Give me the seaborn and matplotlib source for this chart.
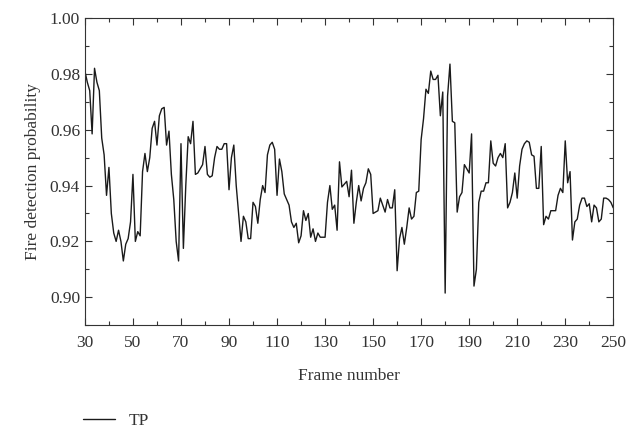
import numpy as np
import pandas as pd
import matplotlib
matplotlib.use("Agg")
import matplotlib.pyplot as plt
import seaborn as sns
from matplotlib.ticker import MultipleLocator

# Frame numbers and detection probability
frames = list(range(30, 251))
tp = [
    0.981, 0.977, 0.974, 0.9585, 0.982, 0.977, 0.974, 0.957, 0.951, 0.9365,  # 30-39
    0.9465, 0.930, 0.923, 0.920, 0.924, 0.920, 0.913, 0.919, 0.921, 0.927,  # 40-49
    0.944, 0.920, 0.9235, 0.922, 0.945, 0.9515, 0.945, 0.950, 0.9605, 0.963,  # 50-59
    0.9545, 0.965, 0.9675, 0.968, 0.9545, 0.9595, 0.944, 0.935, 0.920, 0.913,  # 60-69
    0.955, 0.9175, 0.940, 0.9575, 0.955, 0.963, 0.944, 0.9445, 0.946, 0.9475,  # 70-79
    0.954, 0.944, 0.943, 0.9435, 0.950, 0.954, 0.953, 0.953, 0.955, 0.955,  # 80-89
    0.9385, 0.950, 0.9545, 0.940, 0.930, 0.920, 0.929, 0.927, 0.921, 0.921,  # 90-99
    0.934, 0.9325, 0.9265, 0.935, 0.940, 0.9375, 0.951, 0.9545, 0.9555, 0.953,  # 100-109
    0.9365, 0.9495, 0.945, 0.937, 0.935, 0.933, 0.927, 0.925, 0.9265, 0.9195,  # 110-119
    0.922, 0.931, 0.9275, 0.930, 0.9215, 0.9245, 0.920, 0.923, 0.9215, 0.9215,  # 120-129
    0.9215, 0.934, 0.940, 0.9315, 0.933, 0.924, 0.9485, 0.9395, 0.9405, 0.9415,  # 130-139
    0.936, 0.9455, 0.9265, 0.934, 0.940, 0.9345, 0.939, 0.941, 0.946, 0.944,  # 140-149
    0.930, 0.9305, 0.931, 0.9355, 0.933, 0.9305, 0.935, 0.932, 0.932, 0.9385,  # 150-159
    0.9095, 0.921, 0.925, 0.919, 0.925, 0.932, 0.928, 0.929, 0.9375, 0.938,  # 160-169
    0.9565, 0.964, 0.9745, 0.973, 0.981, 0.978, 0.978, 0.9795, 0.965, 0.9735,  # 170-179
    0.9015, 0.972, 0.9835, 0.963, 0.9625, 0.9305, 0.936, 0.9375, 0.9475, 0.946,  # 180-189
    0.9445, 0.9585, 0.904, 0.910, 0.934, 0.938, 0.938, 0.941, 0.941, 0.956,  # 190-199
    0.948, 0.947, 0.950, 0.9515, 0.950, 0.955, 0.932, 0.934, 0.9375, 0.9445,  # 200-209
    0.9355, 0.947, 0.953, 0.955, 0.956, 0.9555, 0.951, 0.9505, 0.939, 0.939,  # 210-219
    0.954, 0.926, 0.929, 0.928, 0.931, 0.931, 0.931, 0.9365, 0.939, 0.9375,  # 220-229
    0.956, 0.941, 0.945, 0.9205, 0.927, 0.928, 0.933, 0.9355, 0.9355, 0.9325,  # 230-239
    0.9335, 0.927, 0.933, 0.932, 0.927, 0.928, 0.9355, 0.9355, 0.935, 0.934,  # 240-249
    0.932,  # 250
]

x_ticks = list(range(30, 251, 20))
y_ticks = [0.90, 0.92, 0.94, 0.96, 0.98, 1.00]

df = pd.DataFrame({"frame": frames, "TP": tp})

sns.set_style("ticks")
plt.rcParams["font.family"] = ["Liberation Serif", "DejaVu Serif"]

fig = plt.figure(figsize=(6.29, 4.29), dpi=100)
ax = fig.add_axes([0.135, 0.242, 0.840, 0.716])

sns.lineplot(data=df, x="frame", y="TP", ax=ax, color="#1a1a1a",
             linewidth=1.0, label="TP", legend=False)

ax.set_xlim(30, 250)
ax.set_ylim(0.89, 1.00)
ax.set_xticks(x_ticks)
ax.set_yticks(y_ticks)
ax.set_yticklabels([f"{v:.2f}" for v in y_ticks])
ax.xaxis.set_minor_locator(MultipleLocator(10))
ax.yaxis.set_minor_locator(MultipleLocator(0.01))
ax.tick_params(which="both", direction="in", top=True, right=True,
               labeltop=False, labelright=False, color="#333333",
               labelsize=12.5, labelcolor="#333333")
ax.tick_params(which="major", length=5, width=0.8)
ax.tick_params(which="minor", length=3, width=0.8)
ax.tick_params(axis="x", pad=7)
for sp in ax.spines.values():
    sp.set_linewidth(0.8)
    sp.set_color("#333333")

ax.set_xlabel("Frame number", fontsize=12.5, color="#333333", labelpad=12)
ax.set_ylabel("Fire detection probability", fontsize=12.5, color="#333333", labelpad=6)

handles, labels = ax.get_legend_handles_labels()
fig.legend(handles, labels, loc="lower left", bbox_to_anchor=(0.107, -0.037),
           frameon=False, fontsize=12.5, handlelength=1.85,
           labelcolor="#333333")

fig.savefig("out.png", dpi=100)
